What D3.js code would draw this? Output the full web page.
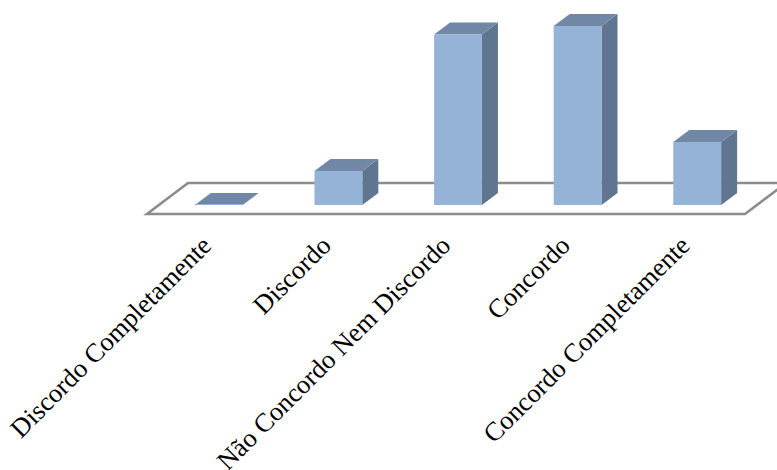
<!DOCTYPE html>
<html>
<head>
<meta charset="utf-8">
<script src="https://cdn.jsdelivr.net/npm/d3@7"></script>
<style>
html, body { margin: 0; padding: 0; background: #fff; overflow: hidden; }
svg { display: block; }
</style>
</head>
<body>
<svg id="chart" width="777" height="470"></svg>
<script>
const categories = ["Discordo Completamente", "Discordo", "Não Concordo Nem Discordo", "Concordo", "Concordo Completamente"];
const values = [0, 4, 20, 21, 7.4];

const floorFront = 214, floorBack = 183, base = 205;
const floorLeft = 147, floorRight = 745, floorSkew = 41;
const depthX = 16, depthY = 12, baseShift = 12;

const svg = d3.select("#chart");
const x = d3.scaleBand().domain(categories).range([floorLeft, floorRight]).paddingInner(0.6).paddingOuter(0.3);
const y = d3.scaleLinear().domain([0, d3.max(values)]).range([base, 26]);

// Floor of the 3D plot
svg.append("path")
  .attr("d", d3.line()([
    [floorLeft, floorFront], [floorRight, floorFront],
    [floorRight + floorSkew, floorBack], [floorLeft + floorSkew, floorBack]
  ]) + "Z")
  .attr("fill", "#fff")
  .attr("stroke", "#8c8c8c")
  .attr("stroke-width", 2.6);

// Columns: side, top, then front face
const bars = svg.selectAll("g.bar")
  .data(categories.map((c, i) => ({ c, v: values[i] })))
  .join("g").attr("class", "bar");

const line = d3.line();
bars.append("path")
  .attr("fill", "#5f7590")
  .attr("d", d => {
    const r = x(d.c) + baseShift + x.bandwidth(), t = y(d.v);
    return line([[r, t], [r + depthX, t - depthY], [r + depthX, base - depthY], [r, base]]) + "Z";
  });
bars.append("path")
  .attr("fill", "#7087a6")
  .attr("d", d => {
    const l = x(d.c) + baseShift, r = l + x.bandwidth(), t = y(d.v);
    return line([[l, t], [r, t], [r + depthX, t - depthY], [l + depthX, t - depthY]]) + "Z";
  });
bars.append("rect")
  .attr("fill", "#95b3d7")
  .attr("x", d => x(d.c) + baseShift)
  .attr("width", x.bandwidth())
  .attr("y", d => y(d.v) - (d.v === 0 ? 1 : 0))
  .attr("height", d => Math.max(1, base - y(d.v)));

// Category labels, rotated and ending just under the floor
svg.selectAll("text.cat")
  .data(categories)
  .join("text")
  .attr("class", "cat")
  .attr("transform", d => `translate(${x(d) + x.bandwidth() / 2 - 7},${234}) rotate(-45)`)
  .attr("text-anchor", "end")
  .attr("dy", "0.7em")
  .attr("font-family", "'Liberation Serif', serif")
  .attr("font-size", 26.5)
  .attr("fill", "#000")
  .text(d => d);
</script>
</body>
</html>
